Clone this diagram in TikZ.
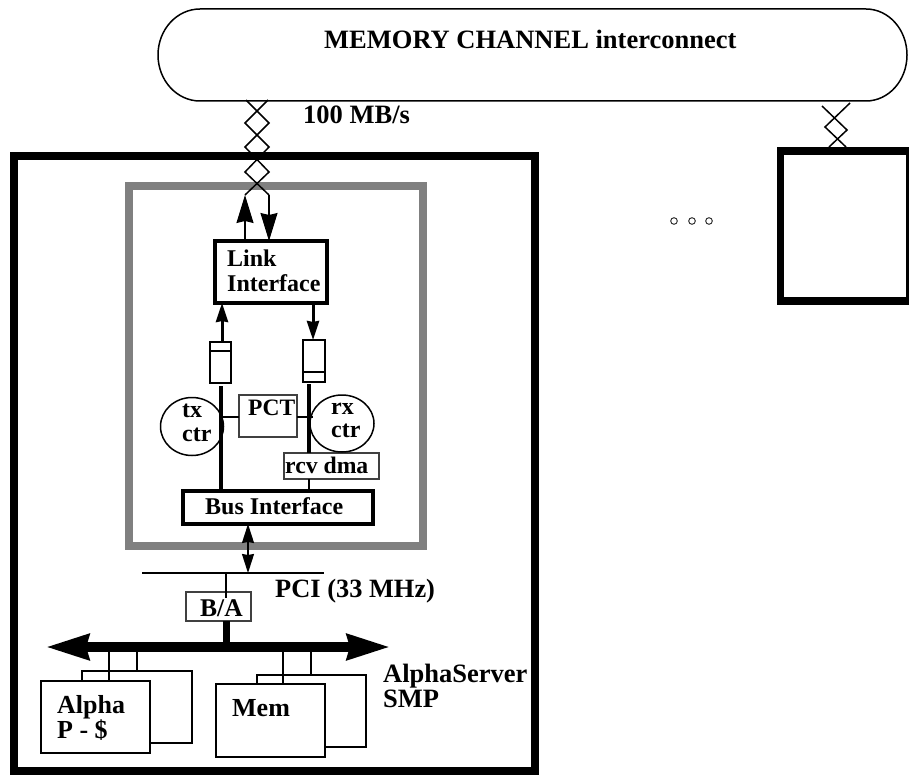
\documentclass[tikz,border=0pt]{standalone}
\usepackage{fontspec}
\setmainfont{Liberation Serif}
\usetikzlibrary{arrows.meta,positioning,shapes.geometric}
\definecolor{framegray}{RGB}{128,128,128}
\tikzset{
  box/.style={draw,fill=white,inner sep=0pt,outer sep=0pt,line width=3.2pt},
  thinbox/.style={box,line width=1.5pt},
  lbl/.style={font=\bfseries\fontsize{#1}{#1}\selectfont,anchor=base west,inner sep=0pt},
  wire/.style={line width=1.5pt,line join=miter},
  bigtip/.tip={Stealth[length=28pt,width=17pt,inset=2pt]},
  midtip/.tip={Stealth[length=19pt,width=12pt,inset=1pt]}
}
\newcommand{\boxat}[6][box]{% style, name, x0, y0, x1, y1
  \node[#1,minimum width={(#5-#3)*1pt},minimum height={(#6-#4)*1pt}] (#2)
    at ({(#3+#5)/2},{(#4+#6)/2}) {};}
\begin{document}
\begin{tikzpicture}[x=1pt,y=-1pt]
  \useasboundingbox (0,0) rectangle (909,775);
  % interconnect
  \draw[line width=1.5pt] (200,9) -- (866,9)
    arc[start angle=-90,end angle=90,x radius=41,y radius=46]
    -- (200,101)
    arc[start angle=90,end angle=270,x radius=42,y radius=46] -- cycle;
  \node[lbl=26.5] (title) at (324,49) {MEMORY CHANNEL interconnect};
  % frames
  \boxat[draw,inner sep=0pt,outer sep=0pt,line width=7.5pt]{server}{14}{156}{535}{771}
  \boxat[draw,inner sep=0pt,outer sep=0pt,line width=7.5pt]{other}{780.5}{151}{909.5}{301}
  \boxat[draw=framegray,inner sep=0pt,outer sep=0pt,line width=8pt]{adapter}{129}{186}{423}{546}
  % link cables
  \coordinate (la) at (245,195);
  \coordinate (lb) at (269,195);
  \draw[wire] (246,100)--(269,123)--(245,147)--(269,172)--(la);
  \draw[wire] (268,100)--(245,123)--(269,147)--(245,172)--(lb);
  \draw[wire] (822,106)--(847,130)--(829,147);
  \draw[wire] (850,103)--(825,127)--(846,147);
  \node[lbl=26.5] (speed) at (303,124) {100 MB/s};
  \foreach \dotx in {674,692,709}{
    \draw[line width=1pt,black!80] (\dotx,221) circle (3.3);
  }
  % adapter
  \boxat{link}{215}{241}{327}{303}
  \draw[wire,-{bigtip}] (link.north -| la) -- (la);
  \draw[wire,-{bigtip}] (lb) -- (link.north -| lb);
  \node[lbl=24] (linktxt) at (227,267) {Link};
  \node[lbl=24] (iftxt) at (227,291) {Interface};

  \boxat[thinbox]{txfifo}{210}{342}{231}{383}
  \boxat[thinbox]{rxfifo}{303}{340}{325}{382}
  \draw[line width=1.2pt] (210,351)--(231,351);
  \draw[line width=1.2pt] (303,372)--(325,372);
  \coordinate (txa) at (222,342);
  \coordinate (rxa) at (313,340);
  \draw[line width=3pt,-{midtip}] (txa) -- (txa |- link.south);
  \draw[line width=3pt,-{midtip}] (rxa |- link.south) -- (rxa);

  \boxat{bus}{183}{491}{373}{524}
  \node[lbl=24] (bustxt) at (205,514) {Bus Interface};
  \boxat[thinbox,draw=black!75]{dma}{284}{453}{379}{479}
  \node[lbl=23.7] (dmatxt) at (285,473) {rcv dma};

  \node[draw,line width=1.5pt,ellipse,inner sep=0pt,outer sep=0pt,minimum width=63pt,minimum height=58pt] (txctr) at (192,426.5) {};
  \node[draw,line width=1.5pt,ellipse,inner sep=0pt,outer sep=0pt,minimum width=64pt,minimum height=57pt] (rxctr) at (342,423.5) {};
  \boxat[thinbox,draw=black!75]{pct}{239}{395}{297}{437}
  \node[lbl=23.5] (pcttxt) at (248,415) {PCT};
  \node[lbl=24] (txa1) at (182,417) {tx};
  \node[lbl=24] (txa2) at (182,441) {ctr};
  \node[lbl=24] (rxa1) at (331,414) {rx};
  \node[lbl=24] (rxa2) at (331,437) {ctr};

  \coordinate (txl) at (221,386);
  \coordinate (rxl) at (309,384);
  \draw[line width=3.2pt] (txl) -- (txl |- bus.north);
  \draw[line width=3.2pt] (rxl) -- (rxl |- dma.north);
  \draw[line width=1.2pt] (rxl |- dma.south) -- (rxl |- bus.north);
  \draw[line width=1.2pt] (pct.west |- 0,417) -- (223,417);
  \draw[line width=1.2pt] (pct.east |- 0,417) -- (313,417);

  % pci
  \coordinate (pcia) at (142,573);
  \coordinate (pcib) at (324,573);
  \draw[line width=2.4pt] (pcia) -- (pcib);
  \node[lbl=26.4] (pcitxt) at (275,597) {PCI (33 MHz)};
  \coordinate (pcic) at (248,573);
  \draw[wire,{midtip}-{midtip}] (pcic |- bus.south) -- (pcic);
  \boxat[thinbox,draw=black!75]{ba}{186}{592}{251}{621}
  \node[lbl=25.5] (batxt) at (200,616) {B/A};
  \coordinate (bat) at (226,573);
  \draw[line width=2pt] (bat) -- (226,598);

  % memory bus
  \coordinate (mbl) at (45,647);
  \coordinate (mbr) at (391,647);
  \draw[line width=7pt] (ba.south -| bat) -- (bat |- mbl);
  \draw[line width=10.5pt,{Stealth[length=43pt,width=24pt,inset=2pt]}-{Stealth[length=43pt,width=24pt,inset=2pt]}] (mbl) -- (mbr);

  \boxat[box,line width=2.5pt]{alphab}{82}{671}{192}{743}
  \boxat[box,line width=2.5pt]{alpha}{41}{681}{150}{753}
  \boxat[box,line width=2.5pt]{memb}{257}{675}{366}{747}
  \boxat[box,line width=2.5pt]{mem}{216}{684}{325}{757}
  \foreach \stubx/\target in {109/alpha,137/alphab,283/mem,311/memb}{
    \draw[line width=2.5pt] (\stubx,650) -- (\target.north -| \stubx,0);
  }
  \node[lbl=26] (alphatxt) at (57,713) {Alpha};
  \node[lbl=26] (ptxt) at (57,738) {P - \$};
  \node[lbl=26] (memtxt) at (232,716) {Mem};
  \node[lbl=26.5] (smp1) at (383,682) {AlphaServer};
  \node[lbl=26.5] (smp2) at (383,707) {SMP};
\end{tikzpicture}
\end{document}
